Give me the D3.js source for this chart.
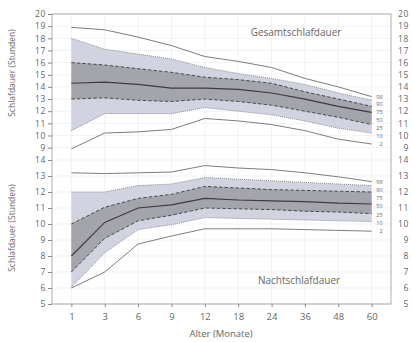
<!DOCTYPE html>
<html>
<head>
<meta charset="utf-8">
<script src="https://cdn.jsdelivr.net/npm/d3@7"></script>
<style>
  body { margin: 0; background: #fff; }
  text { font-family: "Open Sans", sans-serif; fill: #666; }
</style>
</head>
<body>
<script>
// Alter in Monaten (Kategorien)
const ages = ["1", "3", "6", "9", "12", "18", "24", "36", "48", "60"];
const pctLabels = ["98", "90", "75", "50", "25", "10", "2"];

// Gesamtschlafdauer, Perzentile
const gesamtP98 = [18.9, 18.7, 18.1, 17.4, 16.5, 16.1, 15.6, 14.7, 14.0, 13.2];
const gesamtP90 = [18.0, 17.1, 16.7, 16.3, 15.6, 15.1, 14.7, 14.2, 13.5, 12.9];
const gesamtP75 = [16.0, 15.8, 15.5, 15.2, 14.8, 14.6, 14.3, 13.6, 13.0, 12.4];
const gesamtP50 = [14.3, 14.4, 14.2, 13.9, 13.9, 13.8, 13.5, 13.0, 12.4, 11.9];
const gesamtP25 = [13.0, 13.1, 12.9, 12.8, 13.0, 12.8, 12.5, 12.0, 11.5, 10.9];
const gesamtP10 = [10.4, 11.8, 11.8, 11.8, 12.3, 12.0, 11.7, 11.2, 10.6, 10.2];
const gesamtP2  = [8.9, 10.2, 10.3, 10.5, 11.4, 11.2, 10.9, 10.4, 9.7, 9.3];

// Nachtschlafdauer, Perzentile
const nachtP98 = [13.2, 13.15, 13.2, 13.25, 13.65, 13.5, 13.4, 13.2, 12.95, 12.65];
const nachtP90 = [12.0, 12.0, 12.4, 12.5, 12.9, 12.8, 12.7, 12.6, 12.5, 12.4];
const nachtP75 = [10.0, 11.05, 11.6, 11.85, 12.35, 12.25, 12.15, 12.1, 12.05, 12.0];
const nachtP50 = [8.0, 10.1, 11.0, 11.2, 11.6, 11.5, 11.45, 11.4, 11.3, 11.25];
const nachtP25 = [7.0, 9.1, 10.2, 10.55, 11.0, 10.95, 10.9, 10.8, 10.75, 10.65];
const nachtP10 = [6.05, 8.2, 9.65, 9.95, 10.4, 10.35, 10.3, 10.25, 10.2, 10.15];
const nachtP2  = [6.0, 7.0, 8.75, 9.25, 9.7, 9.7, 9.7, 9.65, 9.6, 9.55];

const gesamtTicks = d3.range(9, 21);
const nachtTicks = d3.range(5, 15);

const width = 412, height = 342;
const margin = { left: 52, right: 21, top: 14, bottom: 38 };
const plotR = width - margin.right, plotB = height - margin.bottom;

const svg = d3.select("body").append("svg")
  .attr("width", width).attr("height", height);

const x = d3.scalePoint().domain(ages)
  .range([margin.left, plotR]).padding(0.58);

// two stacked scales on the same axis
const yTop = d3.scaleLinear().domain([9, 20])
  .range([margin.top + 11 * 12.15, margin.top]);
const yBot = d3.scaleLinear().domain([5, 14])
  .range([plotB, plotB - 9 * 16]);

// grid
const grid = svg.append("g").attr("stroke", "#e9e9e9").attr("stroke-width", 0.6);
grid.selectAll(".gx").data(ages).enter().append("line")
  .attr("x1", d => x(d)).attr("x2", d => x(d))
  .attr("y1", margin.top).attr("y2", plotB);
grid.selectAll(".gt").data(gesamtTicks).enter().append("line")
  .attr("x1", margin.left).attr("x2", plotR)
  .attr("y1", d => yTop(d)).attr("y2", d => yTop(d));
grid.selectAll(".gb").data(nachtTicks).enter().append("line")
  .attr("x1", margin.left).attr("x2", plotR)
  .attr("y1", d => yBot(d)).attr("y2", d => yBot(d));

function drawPanel(y, p98, p90, p75, p50, p25, p10, p2) {
  const g = svg.append("g");
  const band = (hi, lo) => d3.area()
    .x((d, i) => x(ages[i]))
    .y0((d, i) => y(lo[i]))
    .y1((d, i) => y(hi[i]));
  const line = d3.line().x((d, i) => x(ages[i])).y(d => y(d));

  g.append("path").datum(p90).attr("d", band(p90, p10)).attr("fill", "#d2d3e0");
  g.append("path").datum(p75).attr("d", band(p75, p25)).attr("fill", "#a4a5ac");

  [p98, p2].forEach(s => g.append("path").datum(s).attr("d", line)
    .attr("fill", "none").attr("stroke", "#6e6e6e").attr("stroke-width", 0.9));
  [p90, p10].forEach(s => g.append("path").datum(s).attr("d", line)
    .attr("fill", "none").attr("stroke", "#777").attr("stroke-width", 0.8)
    .attr("stroke-dasharray", "1,1"));
  [p75, p25].forEach(s => g.append("path").datum(s).attr("d", line)
    .attr("fill", "none").attr("stroke", "#4a4a4a").attr("stroke-width", 1)
    .attr("stroke-dasharray", "3.5,2"));
  g.append("path").datum(p50).attr("d", line)
    .attr("fill", "none").attr("stroke", "#3c3c3c").attr("stroke-width", 1.2);

  // percentile labels, spread evenly between top and bottom line ends
  const last = ages.length - 1;
  const yA = y(p98[last]), yB = y(p2[last]);
  g.selectAll(".pl").data(pctLabels).enter().append("text")
    .attr("x", x(ages[last]) + 11)
    .attr("y", (d, i) => yA + (yB - yA) * i / (pctLabels.length - 1))
    .attr("dy", "0.35em")
    .attr("text-anchor", "end")
    .attr("font-size", 5.5)
    .text(d => d);
}

drawPanel(yTop, gesamtP98, gesamtP90, gesamtP75, gesamtP50, gesamtP25, gesamtP10, gesamtP2);
drawPanel(yBot, nachtP98, nachtP90, nachtP75, nachtP50, nachtP25, nachtP10, nachtP2);

// frame
svg.append("rect")
  .attr("x", margin.left).attr("y", margin.top)
  .attr("width", plotR - margin.left).attr("height", plotB - margin.top)
  .attr("fill", "none").attr("stroke", "#9a9a9a").attr("stroke-width", 0.8);

function styleAxis(g, size) {
  g.select(".domain").remove();
  g.selectAll("line").attr("stroke", "#888");
  g.selectAll("text").attr("fill", "#666").attr("font-size", size)
    .attr("letter-spacing", size < 9.5 ? 0.7 : 0)
    .attr("font-family", "Open Sans, sans-serif");
}

// left axes
svg.append("g").attr("transform", `translate(${margin.left},0)`)
  .call(d3.axisLeft(yTop).tickValues(gesamtTicks).tickSize(4).tickPadding(2))
  .call(styleAxis, 8.5);
svg.append("g").attr("transform", `translate(${margin.left},0)`)
  .call(d3.axisLeft(yBot).tickValues(nachtTicks).tickSize(4).tickPadding(2))
  .call(styleAxis, 8.5);

// right labels
[[yTop, gesamtTicks], [yBot, nachtTicks]].forEach(([y, t]) => {
  svg.append("g").attr("transform", `translate(${plotR},0)`)
    .call(d3.axisRight(y).tickValues(t).tickSize(0))
    .call(styleAxis, 8.5)
    .selectAll("text").attr("text-anchor", "end").attr("x", 18);
});

// x axis
svg.append("g").attr("transform", `translate(0,${plotB})`)
  .call(d3.axisBottom(x).tickSize(3).tickPadding(6))
  .call(styleAxis, 9.5);

// titles
svg.append("text").attr("x", 296).attr("y", 36)
  .attr("text-anchor", "middle").attr("font-size", 10).attr("fill", "#555")
  .text("Gesamtschlafdauer");
svg.append("text").attr("x", 299).attr("y", 284)
  .attr("text-anchor", "middle").attr("font-size", 10).attr("fill", "#555")
  .text("Nachtschlafdauer");

svg.append("text").attr("x", 221).attr("y", 337)
  .attr("text-anchor", "middle").attr("font-size", 9.5)
  .text("Alter (Monate)");

[[73, "Schlafdauer (Stunden)"], [228, "Schlafdauer (Stunden)"]].forEach(([cy, t]) => {
  svg.append("text")
    .attr("transform", `translate(15,${cy}) rotate(-90)`)
    .attr("text-anchor", "middle").attr("font-size", 8.5)
    .text(t);
});
</script>
</body>
</html>
